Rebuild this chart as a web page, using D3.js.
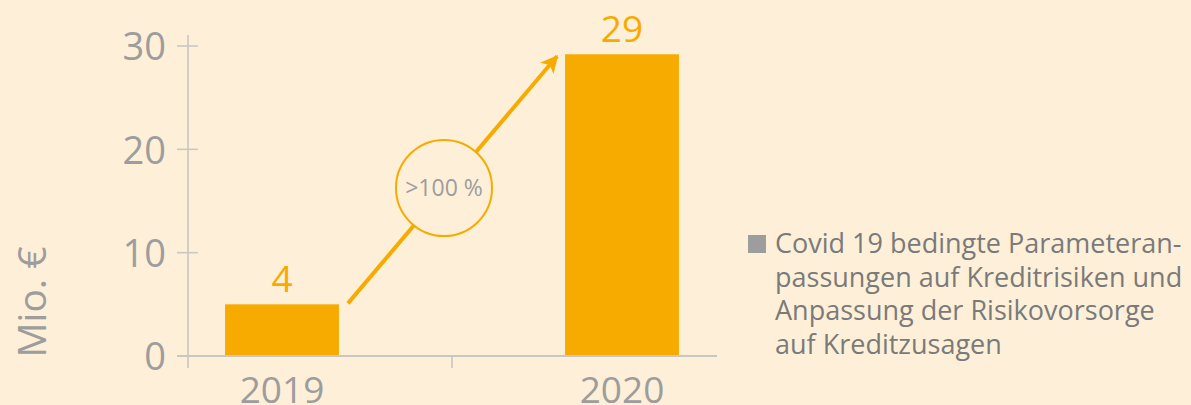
<!DOCTYPE html>
<html><head><meta charset="utf-8">
<script src="https://cdn.jsdelivr.net/npm/d3@7"></script>
<style>html,body{margin:0;padding:0;background:#fef0d8;}svg{display:block;}</style>
</head><body>
<svg id="chart" width="1191" height="405"></svg>
<script>
const categories = ["2019", "2020"];
const barValues = [5, 29.2];
const barLabels = ["4", "29"];
const yTicks = [0, 10, 20, 30];
const changeLabel = ">100 %";
const yTitle = "Mio. €";
const legendLines = ["Covid 19 bedingte Parameteran-", "passungen auf Kreditrisiken und", "Anpassung der Risikovorsorge", "auf Kreditzusagen"];

const bg = "#fef0d8", orange = "#f7ab00", gray = "#9d9d9d", axisGray = "#c9c7c3";
const font = "'Open Sans', sans-serif";
const svg = d3.select("#chart");
svg.append("rect").attr("width", 1191).attr("height", 405).attr("fill", bg);

const y = d3.scaleLinear().domain([0, 30]).range([356, 46]);
const x = d3.scaleBand().domain(categories).range([112, 792]).paddingInner(0.665).paddingOuter(0.3325);
const axisX0 = 188;

// bars
svg.selectAll("rect.bar").data(categories).join("rect").attr("class", "bar")
  .attr("x", d => x(d)).attr("width", x.bandwidth())
  .attr("y", (d, i) => y(barValues[i])).attr("height", (d, i) => y(0) - y(barValues[i]))
  .attr("fill", orange);

// y axis
const yAxis = svg.append("g").attr("transform", `translate(${axisX0},0)`)
  .call(d3.axisLeft(y).tickValues(yTicks).tickSize(0).tickPadding(22));
yAxis.select(".domain").remove();
yAxis.selectAll("text").attr("fill", gray).style("font-family", font).style("font-size", "38px").attr("dy", "0.36em");
svg.append("line").attr("x1", axisX0).attr("x2", axisX0).attr("y1", 35).attr("y2", 368)
  .attr("stroke", axisGray).attr("stroke-width", 1.6);
svg.selectAll("line.ytick").data(yTicks).join("line").attr("class", "ytick")
  .attr("x1", axisX0 - 11).attr("x2", axisX0 + 10).attr("y1", d => y(d)).attr("y2", d => y(d))
  .attr("stroke", axisGray).attr("stroke-width", 1.6);

// x axis
svg.append("line").attr("x1", 177).attr("x2", 717).attr("y1", y(0)).attr("y2", y(0))
  .attr("stroke", axisGray).attr("stroke-width", 2);
const boundary = x(categories[1]) - x.step() * x.paddingInner() / 2;
svg.append("line").attr("x1", boundary).attr("x2", boundary).attr("y1", y(0)).attr("y2", y(0) + 12)
  .attr("stroke", axisGray).attr("stroke-width", 1.6);
svg.selectAll("text.xlab").data(categories).join("text").attr("class", "xlab")
  .attr("x", d => x(d) + x.bandwidth() / 2).attr("y", 403)
  .attr("text-anchor", "middle").attr("fill", gray).style("font-family", font).style("font-size", "37px")
  .text(d => d);

// value labels
svg.selectAll("text.vlab").data(categories).join("text").attr("class", "vlab")
  .attr("x", d => x(d) + x.bandwidth() / 2).attr("y", (d, i) => y(barValues[i]) - 12)
  .attr("text-anchor", "middle").attr("fill", orange).style("font-family", font).style("font-size", "37px")
  .text((d, i) => barLabels[i]);

// y title
svg.append("text").attr("transform", "translate(46,302) rotate(-90)")
  .attr("text-anchor", "middle").attr("fill", gray).style("font-family", font).style("font-size", "39px")
  .text(yTitle);

// arrow
const defs = svg.append("defs");
defs.append("marker").attr("id", "ah").attr("viewBox", "0 0 10 10").attr("refX", 9).attr("refY", 5)
  .attr("markerWidth", 5).attr("markerHeight", 4.4).attr("markerUnits", "strokeWidth").attr("orient", "auto")
  .append("path").attr("d", "M0,0 L10,5 L0,10 L2.5,5 Z").attr("fill", orange);
const ax0 = x(categories[0]) + x.bandwidth() + 9, ay0 = y(barValues[0]) - 1;
const ax1 = x(categories[1]) - 8, ay1 = y(barValues[1]) + 2;
svg.append("line").attr("x1", ax0).attr("y1", ay0).attr("x2", ax1).attr("y2", ay1)
  .attr("stroke", orange).attr("stroke-width", 4).attr("marker-end", "url(#ah)");
const cx = 444, cy = 188;
svg.append("circle").attr("cx", cx).attr("cy", cy).attr("r", 48).attr("fill", bg)
  .attr("stroke", orange).attr("stroke-width", 2);
svg.append("text").attr("x", cx).attr("y", cy).attr("dy", "0.36em").attr("text-anchor", "middle")
  .attr("fill", gray).style("font-family", font).style("font-size", "23px").text(changeLabel);

// legend
svg.append("rect").attr("x", 748).attr("y", 235).attr("width", 18).attr("height", 18).attr("fill", gray);
svg.selectAll("text.leg").data(legendLines).join("text").attr("class", "leg")
  .attr("x", 775).attr("y", (d, i) => 253 + i * 33.5)
  .attr("fill", "#7a7a7a").style("font-family", font).style("font-size", "27px")
  .text(d => d);
</script>
</body></html>
